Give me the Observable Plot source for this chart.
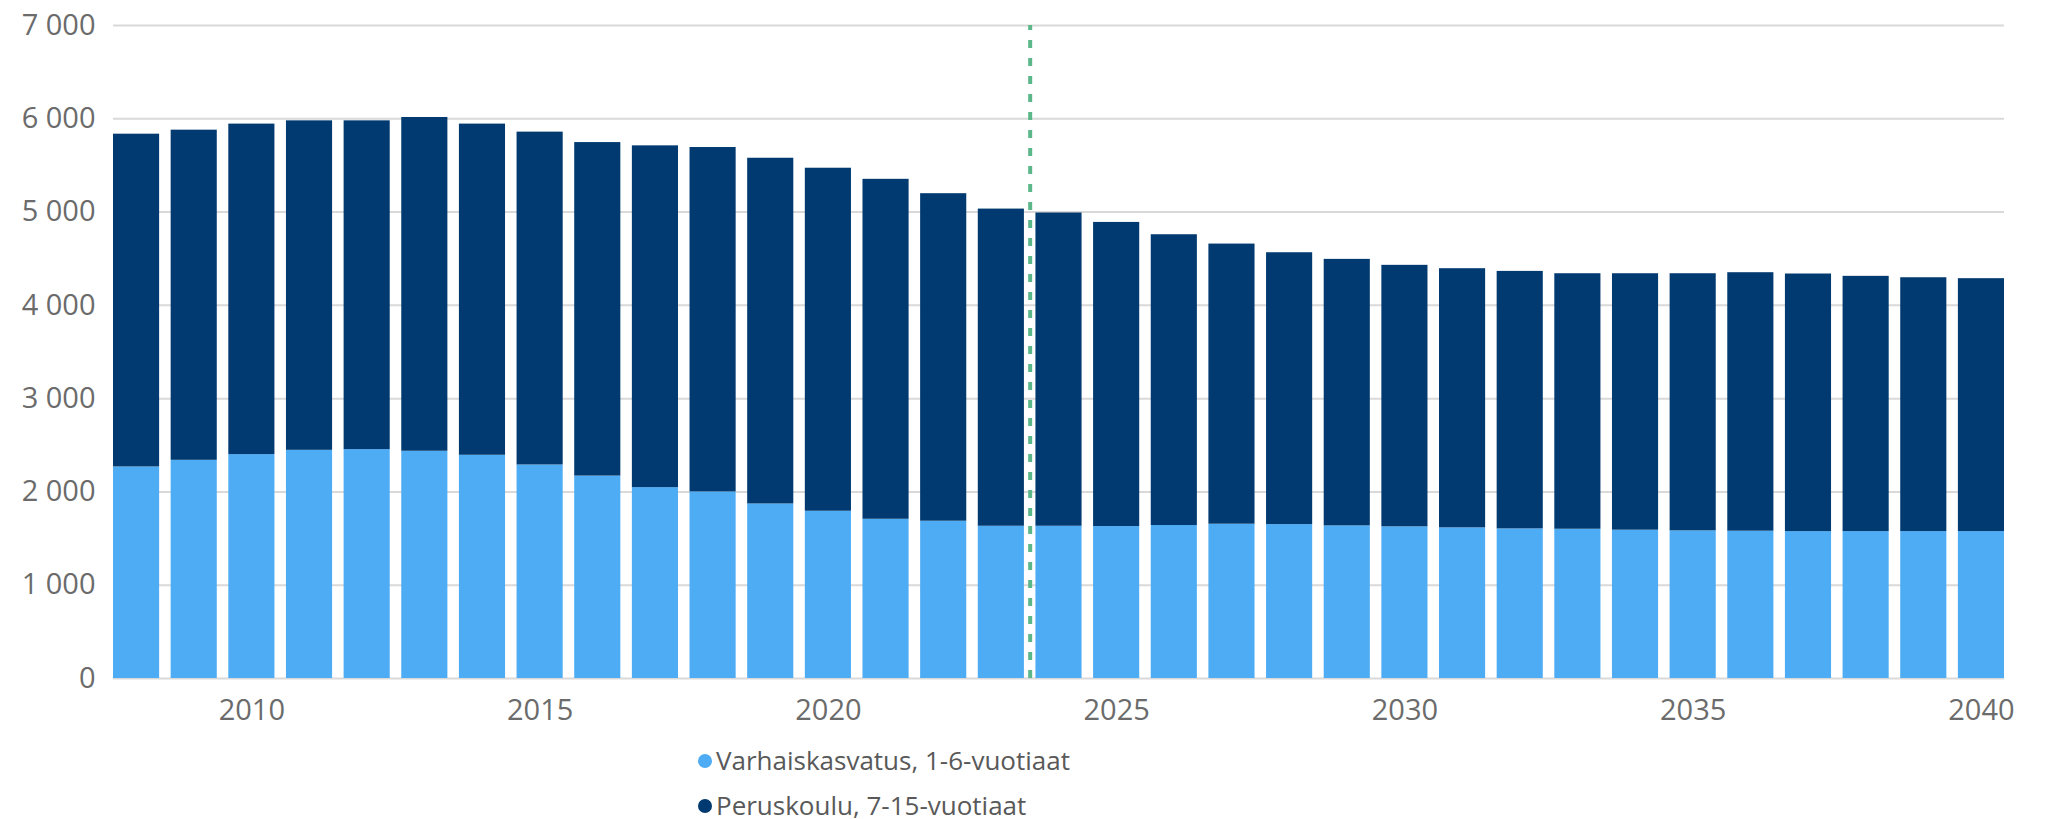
<!DOCTYPE html>
<html>
<head>
<meta charset="utf-8">
<script src="https://cdn.jsdelivr.net/npm/d3@7"></script>
<script src="https://cdn.jsdelivr.net/npm/@observablehq/plot@0.6"></script>
<style>
  html, body { margin: 0; padding: 0; background: #fff; }
  #chart { position: relative; width: 2046px; }
  #legend { position: relative; margin-left: 698px; margin-top: 3px; font-family: "Open Sans", sans-serif; font-size: 26px; color: #595959; }
  .item { height: 45px; line-height: 45px; display: flex; align-items: center; }
  .dot { width: 14px; height: 14px; border-radius: 50%; display: inline-block; margin-right: 4px; }
</style>
</head>
<body>
<div id="chart"></div>
<div id="legend"></div>
<script>
const years = [2008,2009,2010,2011,2012,2013,2014,2015,2016,2017,2018,2019,2020,2021,2022,2023,2024,2025,2026,2027,2028,2029,2030,2031,2032,2033,2034,2035,2036,2037,2038,2039,2040];
const varhaiskasvatus = [2268,2339,2400,2446,2454,2436,2393,2289,2170,2046,2000,1871,1793,1707,1686,1632,1632,1629,1640,1654,1650,1636,1626,1615,1604,1600,1590,1583,1579,1575,1575,1575,1575];
const peruskoulu = [3567,3539,3543,3532,3524,3578,3550,3568,3575,3664,3692,3706,3677,3644,3511,3400,3358,3260,3117,3003,2914,2857,2803,2778,2760,2739,2749,2756,2771,2761,2736,2721,2711];
const seriesNames = ["Varhaiskasvatus, 1-6-vuotiaat", "Peruskoulu, 7-15-vuotiaat"];
const seriesColors = ["#4dacf4", "#003a70"];
const yTicks = [0,1000,2000,3000,4000,5000,6000,7000];
const xTickYears = [2010,2015,2020,2025,2030,2035,2040];
const forecastStart = 2024;

const data = [];
years.forEach((yr, i) => {
  data.push({year: yr, series: seriesNames[0], value: varhaiskasvatus[i]});
  data.push({year: yr, series: seriesNames[1], value: peruskoulu[i]});
});

const W = 2046, H = 735, mL = 113, mR = 42, mT = 25, mB = 57;
const padInner = 0.2;
const step = (W - mL - mR) / (years.length - padInner);
const fmt = d => d3.format(",")(d).replace(/,/g, " ");
const font = "Open Sans, sans-serif";

const chart = Plot.plot({
  width: W, height: H,
  marginLeft: mL, marginRight: mR, marginTop: mT, marginBottom: mB,
  style: {fontFamily: font, background: "#fff"},
  x: {type: "band", domain: years, paddingInner: padInner, paddingOuter: 0, round: false},
  y: {domain: [0, 7000]},
  color: {domain: seriesNames, range: seriesColors},
  marks: [
    Plot.gridY(yTicks, {stroke: "#d9d9d9", strokeOpacity: 1, strokeWidth: 2}),
    Plot.barY(data, {x: "year", y: "value", fill: "series", order: seriesNames}),
    Plot.ruleX([forecastStart], {x: d => d, y1: 0, y2: 7000, dx: -step / 2, stroke: "#5cb88a", strokeWidth: 4, strokeDasharray: "8,10"}),
    Plot.axisY(yTicks, {tickSize: 0, tickPadding: 18, fontSize: 29, fill: "#6b6b6b", tickFormat: fmt, label: null}),
    Plot.axisX(xTickYears, {tickSize: 0, tickPadding: 21, fontSize: 29, fill: "#6b6b6b", tickFormat: d => String(d), label: null})
  ]
});
document.getElementById("chart").appendChild(chart);

const legend = document.getElementById("legend");
seriesNames.forEach((name, i) => {
  const item = document.createElement("div");
  item.className = "item";
  const dot = document.createElement("span");
  dot.className = "dot";
  dot.style.background = seriesColors[i];
  const label = document.createElement("span");
  label.textContent = name;
  item.appendChild(dot);
  item.appendChild(label);
  legend.appendChild(item);
});
</script>
</body>
</html>
